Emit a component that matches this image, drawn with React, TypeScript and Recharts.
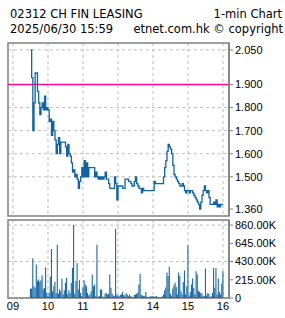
import React from 'react';
import {
  LineChart,
  Line,
  BarChart,
  Bar,
  XAxis,
  YAxis,
  CartesianGrid,
  ReferenceLine,
  ReferenceArea,
} from 'recharts';

// 2-minute samples, 09:30 - 11:58
const amPrice = [
  2.05, 1.93, 1.7, 1.82, 1.95, 1.95, 1.87, 1.82, 1.77, 1.8,
  1.82, 1.79, 1.85, 1.79, 1.8, 1.79, 1.74, 1.75, 1.68, 1.74,
  1.7, 1.66, 1.6, 1.64, 1.67, 1.6, 1.65, 1.65, 1.65, 1.65,
  1.63, 1.59, 1.64, 1.6, 1.59, 1.56, 1.52, 1.53, 1.5, 1.51,
  1.49, 1.45, 1.48, 1.5, 1.54, 1.5, 1.57, 1.5, 1.56, 1.5,
  1.54, 1.54, 1.54, 1.54, 1.54, 1.5, 1.52, 1.5, 1.49, 1.5,
  1.49, 1.5, 1.49, 1.5, 1.52, 1.49, 1.49, 1.47, 1.45, 1.45,
  1.45, 1.45, 1.5, 1.47, 1.4,
];
// 2-minute samples, 13:00 - 16:00
const pmPrice = [
  1.46, 1.46, 1.46, 1.46, 1.45, 1.45, 1.49, 1.49, 1.49, 1.48,
  1.48, 1.47, 1.46, 1.46, 1.48, 1.5, 1.47, 1.46, 1.45, 1.45,
  1.43, 1.45, 1.44, 1.44, 1.44, 1.44, 1.44, 1.44, 1.44, 1.44,
  1.44, 1.48, 1.47, 1.47, 1.47, 1.47, 1.47, 1.47, 1.47, 1.5,
  1.54, 1.57, 1.61, 1.64, 1.63, 1.62, 1.6, 1.55, 1.51, 1.5,
  1.49, 1.48, 1.47, 1.46, 1.46, 1.47, 1.46, 1.44, 1.43, 1.44,
  1.44, 1.43, 1.44, 1.44, 1.43, 1.42, 1.41, 1.4, 1.39, 1.38,
  1.36, 1.39, 1.42, 1.44, 1.46, 1.44, 1.43, 1.44, 1.41, 1.38,
  1.38, 1.38, 1.39, 1.38, 1.4, 1.37, 1.38, 1.37, 1.38, 1.38,
  1.38,
];
// volume in thousand shares
const amVolume = [
  110, 113, 470, 140, 120, 394, 200, 219, 190, 210,
  269, 100, 120, 363, 60, 25, 60, 250, 578, 80,
  140, 190, 60, 629, 50, 100, 80, 226, 40, 90,
  180, 240, 40, 90, 60, 180, 355, 860, 50, 200,
  414, 100, 210, 60, 25, 120, 210, 160, 140, 60,
  30, 40, 80, 277, 140, 160, 20, 629, 15, 25,
  100, 100, 15, 15, 50, 60, 40, 50, 277, 120,
  50, 30, 20, 817, 40,
];
const pmVolume = [
  30, 20, 40, 40, 75, 35, 30, 60, 40, 20,
  40, 20, 15, 10, 35, 40, 50, 65, 160, 285,
  35, 30, 20, 25, 70, 15, 10, 15, 20, 18,
  25, 18, 15, 25, 10, 10, 8, 10, 20, 40,
  90, 125, 300, 260, 370, 50, 20, 110, 150, 180,
  130, 40, 300, 260, 80, 40, 190, 325, 40, 140,
  620, 30, 70, 160, 230, 120, 40, 316, 277, 85,
  70, 60, 50, 25, 20, 348, 30, 60, 50, 15,
  20, 60, 355, 120, 355, 40, 230, 70, 40, 170,
  316,
];

const hourTicks = [0, 60, 120, 180, 240, 300, 360];
const hourLabels = ['09', '10', '11', '12', '14', '15', '16'];
const priceTicks = [1.36, 1.5, 1.6, 1.7, 1.8, 1.9, 2.05];
const volumeTicks = [0, 215, 430, 645, 860];
const prevClose = 1.9;

// minutes after 09:00, lunch hour squeezed out
const data = [
  ...amPrice.map((p, i) => ({ t: 30 + i * 2, price: p, volume: amVolume[i] })),
  ...pmPrice.map((p, i) => ({ t: 180 + i * 2, price: p, volume: pmVolume[i] })),
];

const xDomain: [number, number] = [-8.57, 370.3];
const priceDomain: [number, number] = [1.33, 2.08];
const volDomain: [number, number] = [0, 920];

const BLUE = '#0f64a5';
const FRAME = '#808080';
const GRID = '#bdbdbd';
const tickFont = { fontSize: 11, fill: '#000', fontFamily: "'Liberation Sans Narrow', 'Liberation Sans', Arial, sans-serif" };
const titleFont: React.CSSProperties = {
  position: 'absolute',
  fontFamily: "'DejaVu Sans', sans-serif",
  fontSize: 11.5,
  lineHeight: '12px',
  color: '#000',
  whiteSpace: 'nowrap',
};

const App = () => {
  return (
    <div style={{ position: 'fixed', left: 0, top: 0, width: 285, height: 318, background: '#fff' }}>
      <div style={{ ...titleFont, left: 10, top: 8 }}>02312 CH FIN LEASING</div>
      <div style={{ ...titleFont, right: 3, top: 8 }}>1-min Chart</div>
      <div style={{ ...titleFont, left: 10, top: 23 }}>2025/06/30 15:59</div>
      <div style={{ ...titleFont, right: 2, top: 23 }}>etnet.com.hk © copyright</div>

      <div style={{ position: 'absolute', left: 0, top: 0 }}>
        <LineChart width={285} height={218} data={data} margin={{ top: 43, right: 0, bottom: 2, left: 8 }}>
          <CartesianGrid stroke={GRID} strokeDasharray="3 3" verticalValues={hourTicks} horizontalValues={priceTicks} />
          <XAxis dataKey="t" type="number" domain={xDomain} ticks={hourTicks} hide allowDataOverflow />
          <YAxis
            orientation="right"
            type="number"
            domain={priceDomain}
            ticks={priceTicks}
            width={56}
            allowDataOverflow
            axisLine={{ stroke: FRAME, strokeWidth: 1.5 }}
            tickLine={{ stroke: FRAME }}
            tickSize={4}
            tickMargin={2}
            tick={tickFont}
            tickFormatter={(v: number) => v.toFixed(3)}
          />
          <ReferenceLine y={prevClose} stroke="#ff0a8c" strokeWidth={1.3} />
          <Line type="stepAfter" dataKey="price" stroke={BLUE} strokeWidth={1.3} dot={false} isAnimationActive={false} />
          <ReferenceArea x1={xDomain[0]} x2={xDomain[1]} y1={priceDomain[0]} y2={priceDomain[1]} fill="none" stroke={FRAME} strokeWidth={1.5} />
        </LineChart>
      </div>

      <div style={{ position: 'absolute', left: 0, top: 218 }}>
        <BarChart width={285} height={100} data={data} margin={{ top: 2, right: 0, bottom: 0, left: 8 }} barCategoryGap={0}>
          <CartesianGrid stroke={GRID} strokeDasharray="3 3" verticalValues={hourTicks} horizontalValues={volumeTicks} />
          <XAxis
            dataKey="t"
            type="number"
            domain={xDomain}
            ticks={hourTicks}
            allowDataOverflow
            height={20}
            axisLine={false}
            tickLine={false}
            tickSize={2}
            tickMargin={2}
            tick={tickFont}
            tickFormatter={(v: number) => hourLabels[hourTicks.indexOf(v)] ?? ''}
          />
          <YAxis
            orientation="right"
            type="number"
            domain={volDomain}
            ticks={volumeTicks}
            width={56}
            allowDataOverflow
            axisLine={{ stroke: FRAME, strokeWidth: 1.5 }}
            tickLine={{ stroke: FRAME }}
            tickSize={4}
            tickMargin={2}
            tick={tickFont}
            tickFormatter={(v: number) => (v === 0 ? '0' : `${v.toFixed(2)}K`)}
          />
          <Bar dataKey="volume" fill={BLUE} barSize={1.6} isAnimationActive={false} />
          <ReferenceArea x1={xDomain[0]} x2={xDomain[1]} y1={volDomain[0]} y2={volDomain[1]} fill="none" stroke={FRAME} strokeWidth={1.5} />
        </BarChart>
      </div>
    </div>
  );
};

export default App;
